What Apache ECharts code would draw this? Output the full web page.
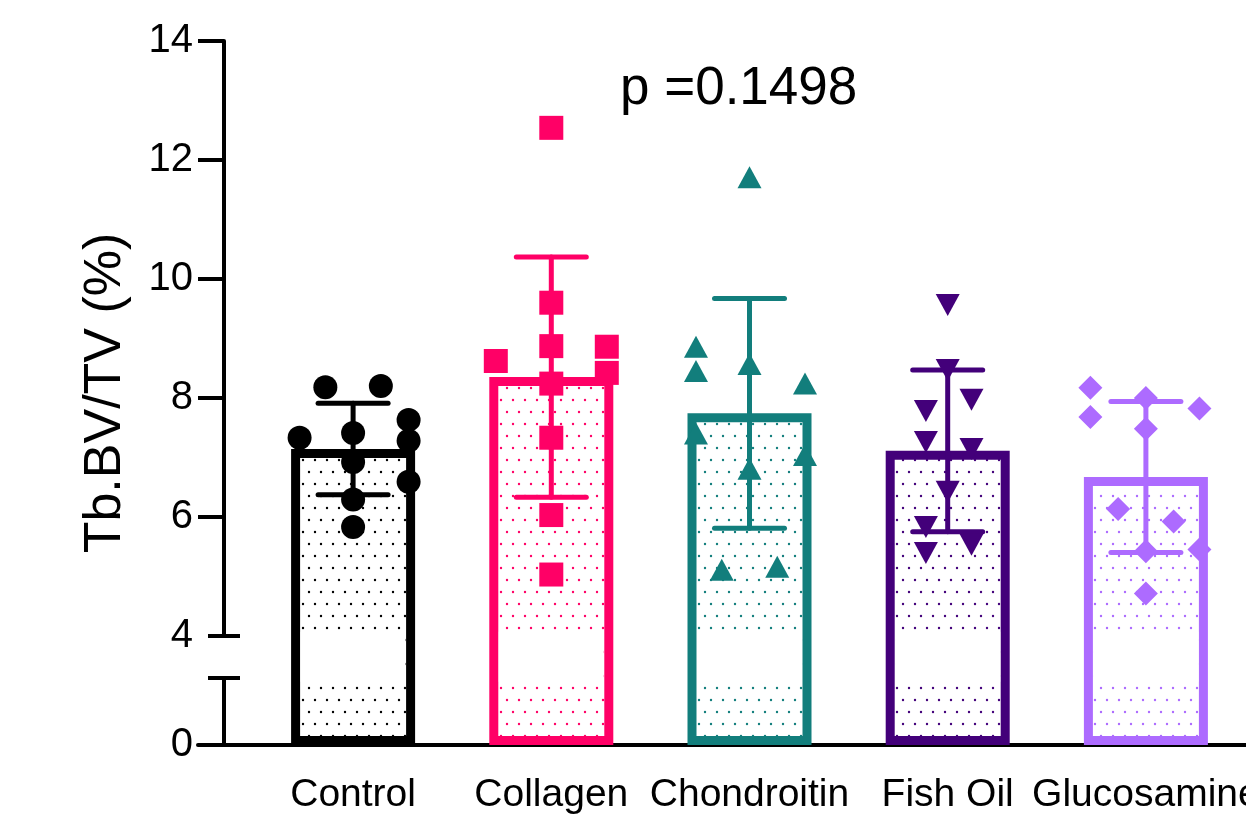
<!DOCTYPE html>
<html>
<head>
<meta charset="utf-8">
<script src="https://cdn.jsdelivr.net/npm/echarts@6.0.0/dist/echarts.min.js"></script>
<style>
  html, body { margin: 0; padding: 0; background: #fff; }
  #main { width: 1246px; height: 823px; }
</style>
</head>
<body>
<div id="main"></div>
<script>
var categories = ['Control', 'Collagen', 'Chondroitin', 'Fish Oil', 'Glucosamine'];
var colors = ['#000000', '#ff0066', '#127e7c', '#43007a', '#ad6bff'];
var symbols = ['circle', 'rect', 'triangle', 'path://M0,0L2,0L1,2Z', 'diamond'];

// group means and SD
var means = [7.14, 8.35, 7.74, 7.11, 6.67];
var sds = [0.77, 2.02, 1.93, 1.36, 1.27];

// individual points per group
var controlPts = [8.18, 8.20, 7.63, 7.33, 7.41, 7.28, 6.92, 6.59, 6.29, 5.83];
var controlJit = [-0.14, 0.14, 0.28, -0.27, 0, 0.28, 0, 0.28, 0, 0];
var collagenPts = [12.54, 9.60, 8.87, 8.62, 8.86, 8.42, 8.24, 7.33, 6.03, 5.03];
var collagenJit = [0, 0, 0, -0.28, 0.28, 0.28, 0, 0, 0, 0];
var chondroitinPts = [11.71, 8.86, 8.45, 8.57, 8.24, 7.40, 7.04, 6.81, 5.11, 5.16];
var chondroitinJit = [0, -0.27, -0.27, 0, 0.28, -0.27, 0.28, 0, -0.14, 0.14];
var fishOilPts = [9.56, 8.47, 7.97, 7.78, 7.26, 7.14, 6.42, 5.83, 5.53, 5.39];
var fishOilJit = [0, 0, 0.12, -0.11, -0.11, 0.12, 0, -0.11, 0.12, -0.11];
var glucosaminePts = [8.17, 7.68, 8.00, 7.82, 7.48, 6.13, 5.92, 5.45, 5.42, 4.71];
var glucosamineJit = [-0.28, -0.28, 0, 0.27, 0, -0.14, 0.14, 0.27, 0, 0];

var yTicks = [6, 8, 10, 12, 14];
var yLabels = [0, 4, 6, 8, 10, 12, 14];
var breakLow = 1.13, breakHigh = 4;
var pText = 'p =0.1498';

var allPts = [controlPts, collagenPts, chondroitinPts, fishOilPts, glucosaminePts];
var allJit = [controlJit, collagenJit, chondroitinJit, fishOilJit, glucosamineJit];

function dotPattern(color) {
  var c = document.createElement('canvas');
  c.width = 12; c.height = 24;
  var ctx = c.getContext('2d');
  ctx.fillStyle = '#fff';
  ctx.fillRect(0, 0, 12, 24);
  ctx.fillStyle = color;
  [[3, 4], [9, 16]].forEach(function (p) {
    ctx.beginPath();
    ctx.arc(p[0], p[1], 1.2, 0, Math.PI * 2);
    ctx.fill();
  });
  return { image: c, repeat: 'repeat' };
}

var font = '"Liberation Sans", Arial, sans-serif';
var black = { color: '#000', width: 4 };
var barW = 124, barBorder = 9;
var yBase = {
  type: 'value', gridIndex: 0, min: 0, max: 14, offset: 30, position: 'left',
  breaks: [{ start: breakLow, end: breakHigh, gap: 0.706 }],
  breakArea: { show: false },
  splitLine: { show: false },
  axisLine: { show: false, onZero: false }
};
// plain axis pieces that draw the y line on either side of the break
function lineAxis(grid) {
  return {
    type: 'value', gridIndex: grid, min: 0, max: 1, offset: 30, position: 'left',
    axisLine: { show: true, onZero: false, lineStyle: black },
    axisTick: { show: false }, axisLabel: { show: false }, splitLine: { show: false }
  };
}
function grid(l, r, t, b) {
  return { left: l, right: r, top: t, bottom: b, outerBoundsMode: 'none', containLabel: false };
}

var myChart = echarts.init(document.getElementById('main'));

var series = [];
series.push({
  type: 'bar', xAxisIndex: 0, yAxisIndex: 0, barWidth: barW, z: 2,
  data: means.map(function (m, i) {
    return { value: m, itemStyle: { color: dotPattern(colors[i]), borderColor: colors[i], borderWidth: barBorder } };
  })
});
// blank band inside each bar where the axis is broken
series.push({
  type: 'custom', xAxisIndex: 0, yAxisIndex: 0, z: 2, silent: true,
  data: categories.map(function (c, i) { return [i]; }),
  renderItem: function (params, api) {
    var lo = api.coord([api.value(0), breakLow]);
    var hi = api.coord([api.value(0), breakHigh]);
    var w = barW - 2 * barBorder - 1;
    return { type: 'rect', z2: 10,
      shape: { x: lo[0] - w / 2, y: hi[1] - 4, width: w, height: lo[1] - hi[1] + 8 },
      style: { fill: '#fff' } };
  }
});
series.push({
  type: 'custom', xAxisIndex: 0, yAxisIndex: 0, z: 3,
  data: means.map(function (m, i) { return [i, m - sds[i], m + sds[i]]; }),
  renderItem: function (params, api) {
    var lo = api.coord([api.value(0), api.value(1)]);
    var hi = api.coord([api.value(0), api.value(2)]);
    var half = 35;
    var st = { stroke: colors[params.dataIndex], lineWidth: 5, lineCap: 'round' };
    return { type: 'group', children: [
      { type: 'line', shape: { x1: lo[0], y1: lo[1], x2: hi[0], y2: hi[1] }, style: st },
      { type: 'line', shape: { x1: hi[0] - half, y1: hi[1], x2: hi[0] + half, y2: hi[1] }, style: st },
      { type: 'line', shape: { x1: lo[0] - half, y1: lo[1], x2: lo[0] + half, y2: lo[1] }, style: st }
    ] };
  }
});
allPts.forEach(function (pts, i) {
  series.push({
    type: 'scatter', xAxisIndex: 1, yAxisIndex: 0, z: 4,
    symbol: symbols[i], symbolSize: i === 2 || i === 3 ? [24, 22] : 24,
    itemStyle: { color: colors[i], opacity: 1 },
    data: pts.map(function (v, k) { return [i + allJit[i][k], v]; })
  });
});

option = {
  animation: false,
  grid: [
    grid(254, 1, 41, 78),
    grid(198, 0, 41, 78),
    grid(254, 1, 41, 187),
    grid(254, 1, 678, 78)
  ],
  xAxis: [
    {
      type: 'category', gridIndex: 0, data: categories,
      axisLine: { show: false },
      axisTick: { alignWithLabel: true, length: 22, lineStyle: black },
      axisLabel: { color: '#000', fontSize: 39, fontFamily: font, margin: 31, interval: 0 }
    },
    { type: 'value', gridIndex: 0, min: -0.5, max: 4.5, show: false },
    {
      type: 'value', gridIndex: 1, min: 0, max: 1,
      axisLine: { show: true, onZero: false, lineStyle: black },
      axisTick: { show: false }, axisLabel: { show: false }, splitLine: { show: false }
    },
    { type: 'value', gridIndex: 2, show: false },
    { type: 'value', gridIndex: 3, show: false }
  ],
  yAxis: [
    Object.assign({}, yBase, {
      name: 'Tb.BV/TV (%)', nameLocation: 'middle', nameGap: 92,
      nameTextStyle: { color: '#000', fontSize: 52, fontFamily: font },
      axisTick: { show: true, length: 26, customValues: yTicks, lineStyle: black },
      axisLabel: { color: '#000', fontSize: 40, fontFamily: font, margin: 31, customValues: yLabels }
    }),
    Object.assign({}, yBase, {
      axisTick: { show: true, inside: true, length: 16, customValues: [breakLow, breakHigh], lineStyle: black },
      axisLabel: { show: false }
    }),
    Object.assign({}, yBase, {
      axisTick: { show: true, length: 16, customValues: [breakLow, breakHigh], lineStyle: black },
      axisLabel: { show: false }
    }),
    { type: 'value', gridIndex: 1, show: false },
    lineAxis(2),
    lineAxis(3)
  ],
  graphic: [{
    type: 'text', left: 620, top: 63,
    style: { text: pText, fill: '#000', font: '53px ' + font }
  }],
  series: series
};
myChart.setOption(option);
</script>
</body>
</html>
